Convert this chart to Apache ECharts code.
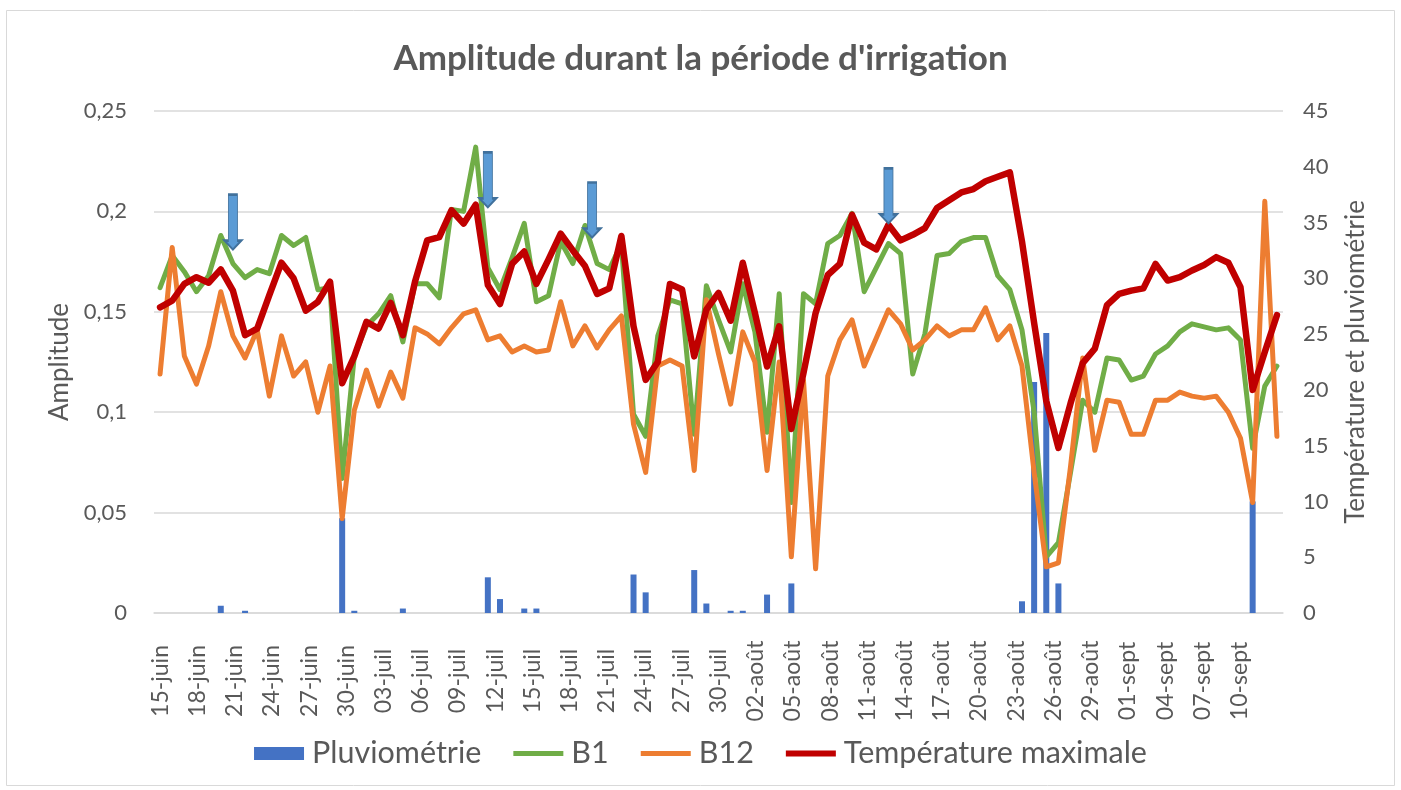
<!DOCTYPE html>
<html><head><meta charset="utf-8">
<script src="https://cdn.jsdelivr.net/npm/echarts@6/dist/echarts.min.js"></script>
<style>html,body{margin:0;padding:0;background:#fff}#c{width:1401px;height:790px}</style>
</head><body><div id="c"></div>
<script>
// data categories (one per measurement)
const dates = [
'15-juin','16-juin','17-juin','18-juin','19-juin','20-juin','21-juin','22-juin','23-juin','24-juin','25-juin','26-juin','27-juin','28-juin','29-juin','30-juin',
'01-juil','02-juil','03-juil','04-juil','05-juil','06-juil','07-juil','08-juil','09-juil','10-juil','11-juil','12-juil','13-juil','14-juil','15-juil','16-juil','17-juil','18-juil','19-juil','20-juil','21-juil','22-juil','23-juil','24-juil','25-juil','26-juil','27-juil','28-juil','29-juil','30-juil','31-juil',
'01-août','02-août','03-août','04-août','05-août','06-août','07-août','08-août','09-août','10-août','11-août','12-août','13-août','14-août','15-août','16-août','17-août','18-août','19-août','20-août','21-août','22-août','23-août','24-août','25-août','26-août','27-août','28-août','29-août','30-août','31-août',
'01-sept','02-sept','03-sept','04-sept','05-sept','06-sept','07-sept','08-sept','09-sept','10-sept','11-sept','12-sept','13-sept','14-sept','15-sept'];

// tick labels of the date axis as printed in the reference
const tickLabels = [
'15-juin','16-juin','17-juin','18-juin','19-juin','20-juin','21-juin','22-juin','23-juin','24-juin','25-juin','26-juin','27-juin','28-juin','29-juin','30-juin',
'01-juil','02-juil','03-juil','04-juil','05-juil','06-juil','07-juil','08-juil','09-juil','10-juil','11-juil','12-juil','13-juil','14-juil','15-juil','16-juil','17-juil','18-juil','19-juil','20-juil','21-juil','22-juil','23-juil','24-juil','25-juil','26-juil','27-juil','28-juil','29-juil','30-juil','31-juil',
'01-août','02-août','03-août','04-août','05-août','06-août','07-août','08-août','09-août','10-août','11-août','12-août','13-août','14-août','15-août','16-août','17-août','18-août','19-août','20-août','21-août','22-août','23-août','24-août','25-août','26-août','27-août','28-août','29-août','30-août','31-août',
'01-sept','02-sept','03-sept','04-sept','05-sept','06-sept','07-sept','08-sept','09-sept','10-sept','11-sept','12-sept','13-sept'];

const pluvioJuin = [0,0,0,0,0,0.65,0,0.2,0,0,0,0,0,0,0,8.5];
const pluvioJuil = [0.2,0,0,0,0.4,0,0,0,0,0,0,3.2,1.25,0,0.4,0.4,0,0,0,0,0,0,0,3.45,1.85,0,0,0,3.85,0.85,0];
const pluvioAout = [0.2,0.2,0,1.65,0,2.65,0,0,0,0,0,0,0,0,0,0,0,0,0,0,0,0,0,0,1.05,20.7,25.1,2.65,0,0,0];
const pluvioSept = [0,0,0,0,0,0,0,0,0,0,0,0,10,0,0];
const pluvio = pluvioJuin.concat(pluvioJuil, pluvioAout, pluvioSept);

const b1 = [
0.162,0.178,0.170,0.160,0.168,0.188,0.174,0.167,0.171,0.169,0.188,0.183,0.187,0.161,0.162,0.067,
0.128,0.143,0.149,0.158,0.135,0.164,0.164,0.157,0.201,0.200,0.232,0.172,0.161,0.177,0.194,0.155,0.158,0.185,0.174,0.193,0.174,0.171,0.184,0.099,0.088,0.138,0.156,0.154,0.089,0.163,0.146,
0.130,0.164,0.140,0.090,0.159,0.055,0.159,0.154,0.184,0.188,0.199,0.160,0.172,0.184,0.179,0.119,0.139,0.178,0.179,0.185,0.187,0.187,0.168,0.161,0.141,0.100,0.028,0.035,0.070,0.106,0.100,
0.127,0.126,0.116,0.118,0.129,0.133,0.140,0.144,0.1425,0.141,0.142,0.136,0.082,0.113,0.123];

const b12 = [
0.119,0.182,0.128,0.114,0.133,0.160,0.138,0.127,0.141,0.108,0.138,0.118,0.125,0.100,0.123,0.047,
0.101,0.121,0.103,0.120,0.107,0.142,0.139,0.134,0.142,0.149,0.151,0.136,0.138,0.130,0.133,0.130,0.131,0.155,0.133,0.143,0.132,0.141,0.148,0.094,0.070,0.123,0.126,0.123,0.071,0.156,0.129,
0.104,0.140,0.125,0.071,0.125,0.028,0.116,0.022,0.118,0.136,0.146,0.123,0.137,0.151,0.144,0.131,0.136,0.143,0.138,0.141,0.141,0.152,0.136,0.143,0.123,0.070,0.023,0.025,0.073,0.127,0.081,
0.106,0.105,0.089,0.089,0.106,0.106,0.110,0.108,0.107,0.108,0.100,0.087,0.055,0.205,0.088];

const tmax = [
27.4,28.0,29.5,30.1,29.6,30.8,28.9,24.9,25.5,28.5,31.4,30.0,27.1,27.9,29.7,20.6,
23.0,26.1,25.5,27.8,24.9,29.7,33.4,33.7,36.1,34.9,36.6,29.4,27.7,31.3,32.4,29.5,31.7,34.0,32.5,31.1,28.6,29.1,33.8,25.7,20.9,22.5,29.5,29.0,23.0,27.2,28.7,
26.2,31.4,26.9,22.1,25.7,16.5,21.5,26.9,30.3,31.3,35.7,33.2,32.6,34.8,33.4,33.9,34.5,36.3,37.0,37.7,38.0,38.7,39.1,39.5,33.3,26.0,19.0,14.8,18.8,22.4,23.7,
27.6,28.6,28.9,29.1,31.3,29.8,30.1,30.7,31.2,31.9,31.4,29.2,20.0,23.4,26.7];

// irrigation arrows (annotation): day and tip amplitude
const arrowDays = ['21-juin','12-juil','21-juil','14-août'];
const arrowTips = [0.181, 0.202, 0.187, 0.194];
const arrowShift = [0, 0, -5, 0];

const FONT = 'Lato, "Open Sans", sans-serif';
const GREY = '#595959';
const arrowPath = 'path://M4,0 L13,0 L13,46 L17,46 L8.5,55 L0,46 L4,46 Z';
const lineIcon = 'path://M0,0 L50,0 L50,5 L0,5 Z';
const lineIconThick = 'path://M0,0 L50,0 L50,6 L0,6 Z';

const chart = echarts.init(document.getElementById('c'), null, {renderer:'canvas'});
chart.setOption({
  animation:false,
  backgroundColor:'#fff',
  textStyle:{fontFamily:FONT},
  title:{text:"Amplitude durant la période d'irrigation", left:'center', top:36,
    textStyle:{fontFamily:FONT, fontSize:35, fontWeight:'bold', color:GREY}},
  graphic:[{type:'rect', shape:{x:6.5,y:10.5,width:1388,height:775}, style:{fill:'none', stroke:'#D9D9D9', lineWidth:1}, silent:true}],
  legend:{top:733, left:'center', itemWidth:50, itemHeight:13, itemGap:32,
    textStyle:{fontFamily:FONT, fontSize:30.5, color:GREY, padding:[0,0,0,3]},
    data:[{name:'Pluviométrie', icon:'rect'},{name:'B1', icon:lineIcon},{name:'B12', icon:lineIcon},{name:'Température maximale', icon:lineIconThick}]},
  grid:{left:154, right:118, top:111, bottom:177},
  xAxis:[
    {type:'category', data:dates, boundaryGap:true,
      axisTick:{show:false},
      axisLine:{lineStyle:{color:'#D9D9D9', width:1.5}},
      axisLabel:{show:false}},
    {type:'category', data:tickLabels, boundaryGap:true, position:'bottom',
      axisTick:{show:false}, axisLine:{show:false}, splitLine:{show:false},
      axisLabel:{interval:2, rotate:90, align:'center', margin:68, fontSize:23, color:GREY, fontFamily:FONT,
        formatter:(v,i)=> i>=90 ? '' : v}}
  ],
  yAxis:[
    {type:'value', min:0, max:0.25, interval:0.05,
      axisLine:{show:false}, axisTick:{show:false},
      splitLine:{lineStyle:{color:'#D9D9D9', width:1.5}},
      axisLabel:{fontSize:22, color:GREY, margin:27, fontFamily:FONT,
        formatter:v=>String(Math.round(v*100)/100).replace('.',',')},
      name:'Amplitude', nameLocation:'middle', nameGap:80, nameRotate:90,
      nameTextStyle:{fontSize:26, color:GREY, fontFamily:FONT}},
    {type:'value', min:0, max:45, interval:5,
      axisLine:{show:false}, axisTick:{show:false}, splitLine:{show:false},
      axisLabel:{fontSize:22, color:GREY, margin:20, fontFamily:FONT},
      name:'Température et pluviométrie', nameLocation:'middle', nameGap:60, nameRotate:90,
      nameTextStyle:{fontSize:26, color:GREY, fontFamily:FONT}}
  ],
  series:[
    {name:'Pluviométrie', type:'bar', xAxisIndex:0, yAxisIndex:1, data:pluvio, barWidth:6,
      itemStyle:{color:'#4472C4'}},
    {name:'B1', type:'line', xAxisIndex:0, yAxisIndex:0, data:b1, symbol:'none', showSymbol:false, color:'#70AD47',
      lineStyle:{width:5, color:'#70AD47', join:'round', cap:'round'},
      markPoint:{symbol:arrowPath, symbolSize:[17,55], label:{show:false}, silent:true,
        itemStyle:{color:'#5B9BD5', borderColor:'#41719C', borderWidth:1.5},
        data:arrowDays.map((d,k)=>({coord:[d, arrowTips[k]], symbolOffset:[arrowShift[k], '-50%']}))}},
    {name:'B12', type:'line', xAxisIndex:0, yAxisIndex:0, data:b12, symbol:'none', showSymbol:false, color:'#ED7D31',
      lineStyle:{width:5, color:'#ED7D31', join:'round', cap:'round'}},
    {name:'Température maximale', type:'line', xAxisIndex:0, yAxisIndex:1, data:tmax, symbol:'none', showSymbol:false, color:'#C00000',
      lineStyle:{width:6.5, color:'#C00000', join:'round', cap:'round'}}
  ]
});
</script>
</body></html>
